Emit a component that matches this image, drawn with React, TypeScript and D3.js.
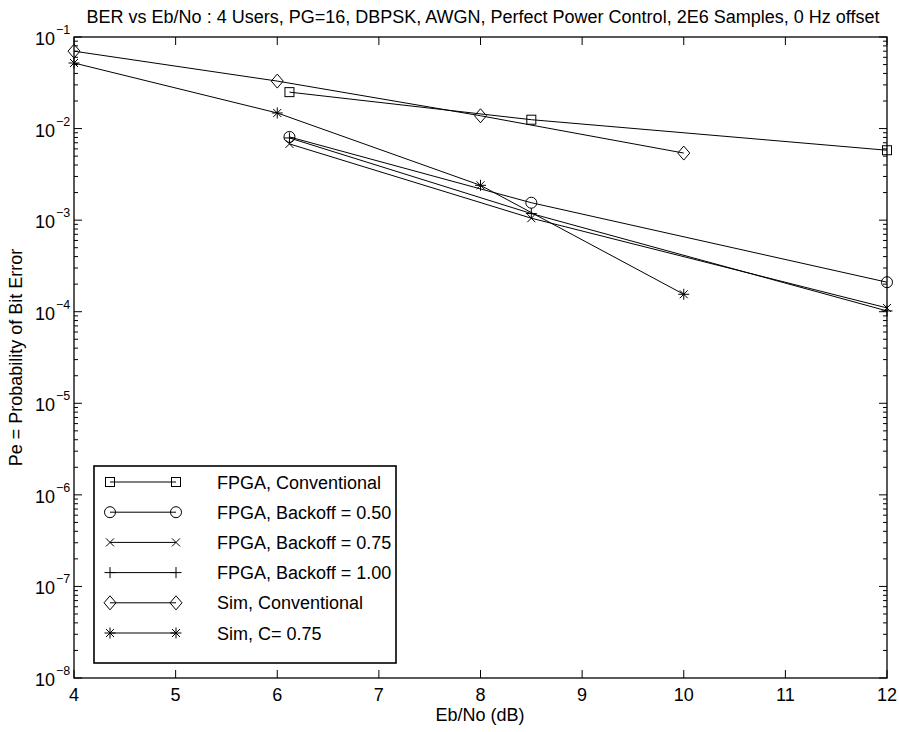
import React from "react";
import * as d3 from "d3";

const W = 899;
const H = 732;

const titleText = "BER vs Eb/No : 4 Users, PG=16, DBPSK, AWGN, Perfect Power Control, 2E6 Samples, 0 Hz offset";
const xLabel = "Eb/No (dB)";
const yLabel = "Pe = Probability of Bit Error";

const xTicks = [4, 5, 6, 7, 8, 9, 10, 11, 12];
const yExponents = [-1, -2, -3, -4, -5, -6, -7, -8];

const fpgaX = [6.12, 8.5, 12];
const simX = [4, 6, 8, 10];

const fpgaConventional = [0.025, 0.0125, 0.0058];
const fpgaBackoff050 = [0.0081, 0.00155, 0.00021];
const fpgaBackoff075 = [0.0068, 0.00105, 0.00011];
const fpgaBackoff100 = [0.0079, 0.00118, 0.000102];
const simConventional = [0.07, 0.033, 0.0138, 0.0054];
const simC075 = [0.052, 0.0148, 0.0024, 0.000155];

type Marker = "square" | "circle" | "x" | "plus" | "diamond" | "star";

const series: { name: string; xs: number[]; ys: number[]; marker: Marker }[] = [
  { name: "FPGA, Conventional", xs: fpgaX, ys: fpgaConventional, marker: "square" },
  { name: "FPGA, Backoff = 0.50", xs: fpgaX, ys: fpgaBackoff050, marker: "circle" },
  { name: "FPGA, Backoff = 0.75", xs: fpgaX, ys: fpgaBackoff075, marker: "x" },
  { name: "FPGA, Backoff = 1.00", xs: fpgaX, ys: fpgaBackoff100, marker: "plus" },
  { name: "Sim, Conventional", xs: simX, ys: simConventional, marker: "diamond" },
  { name: "Sim, C= 0.75", xs: simX, ys: simC075, marker: "star" },
];

const L = 74, R = 887, T = 37, B = 678;
const FONT = "'Liberation Sans', Arial, Helvetica, sans-serif";

function MarkerShape({ type, cx, cy }: { type: Marker; cx: number; cy: number }) {
  const s = { fill: "none", stroke: "#000", strokeWidth: 1 } as const;
  switch (type) {
    case "square":
      return <rect x={cx - 4.5} y={cy - 4.5} width={9} height={9} {...s} />;
    case "circle":
      return <circle cx={cx} cy={cy} r={5.5} {...s} />;
    case "x":
      return <path d={`M${cx - 4},${cy - 4}L${cx + 4},${cy + 4}M${cx - 4},${cy + 4}L${cx + 4},${cy - 4}`} {...s} />;
    case "plus":
      return <path d={`M${cx - 5.5},${cy}L${cx + 5.5},${cy}M${cx},${cy - 5.5}L${cx},${cy + 5.5}`} {...s} />;
    case "diamond":
      return <path d={`M${cx},${cy - 7}L${cx + 6},${cy}L${cx},${cy + 7}L${cx - 6},${cy}Z`} {...s} />;
    case "star":
      return (
        <path
          d={`M${cx - 5.5},${cy}L${cx + 5.5},${cy}M${cx},${cy - 5.5}L${cx},${cy + 5.5}M${cx - 4},${cy - 4}L${cx + 4},${cy + 4}M${cx - 4},${cy + 4}L${cx + 4},${cy - 4}`}
          {...s}
        />
      );
  }
}

export default function App() {
  const x = d3.scaleLinear().domain([4, 12]).range([L, R]);
  const y = d3.scaleLog().domain([1e-8, 1e-1]).range([B, T]);
  const line = d3
    .line<[number, number]>()
    .x((d) => x(d[0]))
    .y((d) => y(d[1]));

  const minor: number[] = [];
  for (let e = -8; e < -1; e++) {
    for (let m = 2; m <= 9; m++) minor.push(m * Math.pow(10, e));
  }

  const legX0 = 94, legY0 = 466, legX1 = 396, legY1 = 663;
  const rowY = (i: number) => 482 + i * 30.2;

  return (
    <svg width={W} height={H} style={{ position: "absolute", left: 0, top: 0, background: "#fff" }} fontFamily={FONT}>
      <rect x={0} y={0} width={W} height={H} fill="#fff" />
      {/* title */}
      <text x={483} y={23} textAnchor="middle" fontSize={18}>
        {titleText}
      </text>
      {/* axes box */}
      <rect x={L} y={T} width={R - L} height={B - T} fill="none" stroke="#000" strokeWidth={1.3} />
      {/* x ticks */}
      {xTicks.map((t) => (
        <g key={t}>
          <line x1={x(t)} x2={x(t)} y1={B} y2={B - 8} stroke="#000" />
          <line x1={x(t)} x2={x(t)} y1={T} y2={T + 8} stroke="#000" />
          <text x={x(t)} y={701} textAnchor="middle" fontSize={18}>
            {t}
          </text>
        </g>
      ))}
      {/* y major ticks */}
      {yExponents.map((e) => {
        const v = Math.pow(10, e);
        const yy = y(v);
        return (
          <g key={e}>
            <line x1={L} x2={L + 8} y1={yy} y2={yy} stroke="#000" />
            <line x1={R} x2={R - 8} y1={yy} y2={yy} stroke="#000" />
            <text x={55} y={yy + 8} textAnchor="end" fontSize={18}>
              10
            </text>
            <text x={56} y={yy - 3} textAnchor="start" fontSize={12.5}>
              {"\u2212" + Math.abs(e)}
            </text>
          </g>
        );
      })}
      {/* y minor ticks */}
      {minor.map((v, i) => (
        <g key={i}>
          <line x1={L} x2={L + 4} y1={y(v)} y2={y(v)} stroke="#000" />
          <line x1={R} x2={R - 4} y1={y(v)} y2={y(v)} stroke="#000" />
        </g>
      ))}
      {/* axis labels */}
      <text x={480} y={721} textAnchor="middle" fontSize={18}>
        {xLabel}
      </text>
      <text transform={`translate(22,${(T + B) / 2}) rotate(-90)`} textAnchor="middle" fontSize={18}>
        {yLabel}
      </text>
      {/* series */}
      {series.map((s) => {
        const pts = s.xs.map((xv, i) => [xv, s.ys[i]] as [number, number]);
        return (
          <g key={s.name}>
            <path d={line(pts) || ""} fill="none" stroke="#000" strokeWidth={1} />
            {pts.map((p, i) => (
              <MarkerShape key={i} type={s.marker} cx={x(p[0])} cy={y(p[1])} />
            ))}
          </g>
        );
      })}
      {/* legend */}
      <rect x={legX0} y={legY0} width={legX1 - legX0} height={legY1 - legY0} fill="#fff" stroke="#000" strokeWidth={1.6} />
      {series.map((s, i) => {
        const yy = rowY(i);
        return (
          <g key={"leg" + i}>
            <line x1={110} x2={176} y1={yy} y2={yy} stroke="#000" />
            <MarkerShape type={s.marker} cx={110} cy={yy} />
            <MarkerShape type={s.marker} cx={176} cy={yy} />
            <text x={217} y={yy + 6.5} fontSize={18}>
              {s.name}
            </text>
          </g>
        );
      })}
    </svg>
  );
}
